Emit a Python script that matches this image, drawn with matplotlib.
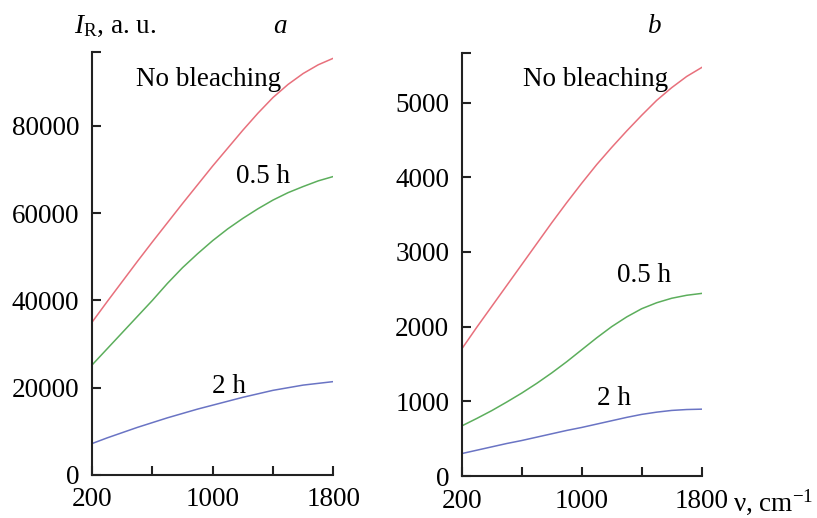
import matplotlib
matplotlib.use("Agg")
import matplotlib.pyplot as plt

plt.rcParams['font.family'] = ['Liberation Serif', 'DejaVu Serif']
plt.rcParams['mathtext.fontset'] = 'custom'
plt.rcParams['mathtext.rm'] = 'Liberation Serif'
plt.rcParams['mathtext.it'] = 'Liberation Serif:italic'

# Wavenumber (cm^-1)
nu = [200, 300, 400, 500, 600, 700, 800, 900, 1000,
      1100, 1200, 1300, 1400, 1500, 1600, 1700, 1800]

# Panel a
a_none = [35000, 39700, 44300, 48900, 53400, 57800, 62200, 66500, 70800,
          74900, 79000, 82900, 86500, 89500, 92000, 94000, 95500]
a_half = [25200, 28900, 32600, 36300, 40000, 43900, 47500, 50700, 53700,
          56400, 58800, 61000, 63000, 64700, 66100, 67400, 68400]
a_two = [7200, 8500, 9700, 10900, 12000, 13100, 14100, 15100, 16000,
         16900, 17800, 18600, 19400, 20000, 20600, 21000, 21400]

# Panel b
b_none = [1700, 1990, 2270, 2550, 2830, 3110, 3390, 3660, 3920,
          4170, 4400, 4620, 4830, 5030, 5200, 5350, 5470]
b_half = [670, 770, 875, 990, 1110, 1240, 1380, 1530, 1690,
          1850, 2000, 2130, 2240, 2320, 2380, 2420, 2445]
b_two = [300, 345, 390, 435, 475, 520, 565, 610, 650,
         695, 740, 785, 825, 855, 878, 890, 895]

x_ticks = [200, 600, 1000, 1400, 1800]
x_labels = ['200', '', '1000', '', '1800']
a_yticks = [0, 20000, 40000, 60000, 80000]
b_yticks = [0, 1000, 2000, 3000, 4000, 5000]

c_red = '#e8707c'
c_green = '#5cae5c'
c_blue = '#6a74c4'

W, H = 817, 518
fig = plt.figure(figsize=(W / 100, H / 100), dpi=100)

ax_a = fig.add_axes([92 / W, 1 - 475 / H, (333.3 - 92) / W, (475 - 51.7) / H])
ax_b = fig.add_axes([461.7 / W, 1 - 476 / H, (701.7 - 461.7) / W, (476 - 53.3) / H])

FS = 19.5

def style(ax, ytop, yticks):
    ax.set_xlim(200, 1800)
    ax.set_ylim(0, ytop)
    for s in ['top', 'right']:
        ax.spines[s].set_visible(False)
    for s in ['left', 'bottom']:
        ax.spines[s].set_linewidth(1.5)
        ax.spines[s].set_color('#222222')
    ax.set_xticks(x_ticks)
    ax.set_xticklabels(x_labels)
    ax.set_yticks(yticks + [ytop])
    ax.set_yticklabels([str(v) for v in yticks] + [''])
    ax.tick_params(direction='in', length=6.5, width=1.5, labelsize=FS,
                   colors='#222222', labelcolor='black')
    ax.tick_params(axis='y', pad=9)
    ax.tick_params(axis='x', pad=9)
    ax.patch.set_alpha(0)

ax_a.plot(nu, a_none, color=c_red, lw=1.1)
ax_a.plot(nu, a_half, color=c_green, lw=1.1)
ax_a.plot(nu, a_two, color=c_blue, lw=1.1)
style(ax_a, 97000, a_yticks)

ax_b.plot(nu, b_none, color=c_red, lw=1.1)
ax_b.plot(nu, b_half, color=c_green, lw=1.1)
ax_b.plot(nu, b_two, color=c_blue, lw=1.1)
style(ax_b, 5660, b_yticks)

ax_a.text(492, 89100, 'No bleaching', fontsize=FS, ha='left', va='baseline')
ax_a.text(1155, 66900, '0.5 h', fontsize=FS, ha='left', va='baseline')
ax_a.text(996, 18800, '2 h', fontsize=FS, ha='left', va='baseline')

ax_b.text(609, 5220, 'No bleaching', fontsize=FS, ha='left', va='baseline')
ax_b.text(1235, 2600, '0.5 h', fontsize=FS, ha='left', va='baseline')
ax_b.text(1102, 950, '2 h', fontsize=FS, ha='left', va='baseline')

fig.text(74 / W, 1 - 33 / H, r'$\mathit{I}_{\mathrm{R}}$, a. u.', fontsize=FS,
         ha='left', va='baseline')
fig.text(273 / W, 1 - 33 / H, 'a', fontsize=FS, style='italic',
         ha='left', va='baseline')
fig.text(648 / W, 1 - 33 / H, 'b', fontsize=FS, style='italic',
         ha='left', va='baseline')
fig.text(733 / W, 1 - 511 / H, r'ν, cm$^{\mathrm{−1}}$', fontsize=FS,
         ha='left', va='baseline')

fig.savefig('out.png', dpi=100, facecolor='white')
